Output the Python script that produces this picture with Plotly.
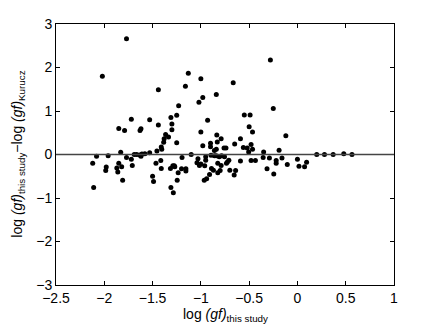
import plotly.graph_objects as go

x_vals = [-1.77, -2.02, -1.44, -1.72, -1.53, -1.31, -1.25, -1.23, -1.16, -1.13,
          -1.00, -1.02, -0.98, -0.84, -0.665, -0.55, -0.49, -0.28, -0.25, -0.93,
          -1.85, -1.79, -1.62, -1.63, -1.44, -1.30, -1.30, -1.365, -1.335, -1.38,
          -1.385, -1.41, -1.405, -1.455, -1.53, -1.58, -1.61, -1.635, -1.62, -1.665,
          -1.69, -1.83, -1.77, -1.72, -1.71, -1.85, -1.82, -1.87, -1.86, -1.96,
          -2.08, -2.12, -1.98, -1.985, -1.81, -2.11, -1.50, -1.49, -1.465, -1.415,
          -1.41, -1.315, -1.29, -1.275, -1.27, -1.31, -1.285, -1.25, -1.00, -0.98,
          -0.90, -0.90, -0.86, -0.84, -0.835, -0.83, -0.79, -0.76, -0.74, -0.65,
          -0.59, -0.50, -0.465, -0.56, -0.52, -0.48, -0.465, -0.505, -0.35, -0.355,
          -0.59, -0.48, -0.435, -0.29, -0.19, -0.16, -0.12, -0.105, -0.22, -0.22,
          -0.315, -0.245, -1.195, -1.10, -1.03, -1.04, -1.015, -1.00, -0.95, -0.95,
          -0.96, -0.895, -0.86, -0.84, -0.81, -0.785, -0.755, -0.825, -0.79, -0.735,
          -0.71, -0.725, -0.87, -0.89, -0.825, -0.80, -0.91, -0.965, -0.94, -0.70,
          -0.655, -0.64, -1.235, -1.20, -1.155, -1.155, -1.245, 0.0, 0.016, 0.074,
          0.095, 0.20, 0.28, 0.37, 0.48, 0.565]
y_vals = [2.66, 1.80, 1.49, 0.81, 0.80, 0.85, 0.90, 1.12, 1.57, 1.87,
          1.74, 1.20, 1.31, 1.38, 1.65, 0.91, 0.91, 2.17, 1.06, 0.79,
          0.60, 0.55, 0.59, 0.55, 0.68, 0.70, 0.57, 0.46, 0.40, 0.36,
          0.28, 0.17, 0.12, 0.08, 0.04, 0.02, 0.01, -0.01, -0.04, 0.0,
          0.0, 0.05, -0.07, -0.11, -0.25, -0.20, -0.28, -0.31, -0.40, -0.03,
          -0.04, -0.20, -0.29, -0.37, -0.59, -0.76, -0.50, -0.62, -0.20, -0.14,
          -0.32, -0.32, -0.26, -0.26, -0.28, -0.76, -0.88, 0.27, 0.52, 0.20,
          0.26, 0.18, 0.09, 0.12, 0.45, 0.29, 0.36, 0.15, 0.15, 0.24,
          0.36, 0.64, 0.52, 0.16, 0.15, 0.23, 0.12, 0.06, 0.06, -0.07,
          -0.15, -0.14, -0.14, -0.08, 0.10, -0.08, 0.43, -0.23, -0.14, -0.20,
          -0.33, -0.45, -0.07, 0.0, -0.10, -0.19, -0.25, -0.22, -0.05, -0.13,
          -0.26, -0.02, -0.03, -0.03, -0.05, -0.03, -0.05, -0.20, -0.25, -0.20,
          -0.13, -0.17, -0.36, -0.32, -0.42, -0.37, -0.46, -0.59, -0.56, -0.36,
          -0.47, -0.37, -0.42, -0.33, -0.33, -0.38, -0.59, -0.11, -0.27, -0.28,
          -0.18, 0.0, 0.0, 0.0, 0.02, 0.0]

x_ticks = [-2.5, -2, -1.5, -1, -0.5, 0, 0.5, 1]
x_tick_text = ["\u22122.5", "\u22122", "\u22121.5", "\u22121", "\u22120.5", "0", "0.5", "1"]
y_ticks = [-3, -2, -1, 0, 1, 2, 3]
y_tick_text = ["\u22123", "\u22122", "\u22121", "0", "1", "2", "3"]

fig = go.Figure()
fig.add_trace(go.Scatter(x=x_vals, y=y_vals, mode="markers",
                         marker=dict(color="black", size=5), showlegend=False))
fig.add_shape(type="line", xref="paper", x0=0, x1=1, yref="y", y0=0, y1=0,
              line=dict(color="#444444", width=1.5))

font = dict(family="Liberation Sans, Arial, sans-serif", size=14, color="black")
fig.update_layout(
    width=428, height=320,
    margin=dict(l=48, r=42, t=16, b=43),
    plot_bgcolor="white", paper_bgcolor="white",
    font=font,
    xaxis=dict(range=[-2.5, 1], tickvals=x_ticks, ticktext=x_tick_text,
               automargin=False,
               showgrid=False, zeroline=False, showline=True, linecolor="black",
               linewidth=1, mirror="ticks", ticks="inside", ticklen=4,
               tickcolor="black", tickfont=font),
    yaxis=dict(range=[-3, 3], tickvals=y_ticks, ticktext=y_tick_text,
               automargin=False,
               showgrid=False, zeroline=False, showline=True, linecolor="black",
               linewidth=1, mirror="ticks", ticks="inside", ticklen=4,
               tickcolor="black", tickfont=font),
    annotations=[
        dict(text="log <i>(gf)</i><sub>this study</sub>", xref="paper", yref="paper",
             x=0.5, y=-0.072, xanchor="center", yanchor="top", showarrow=False, font=font),
        dict(text="log <i>(gf)</i><sub>this study</sub>\u2212log <i>(gf)</i><sub>Kurucz</sub>",
             xref="paper", yref="paper", x=-0.115, y=0.5, xanchor="center", yanchor="middle",
             textangle=-90, showarrow=False, font=font),
    ],
)
fig.write_html("out.html")
